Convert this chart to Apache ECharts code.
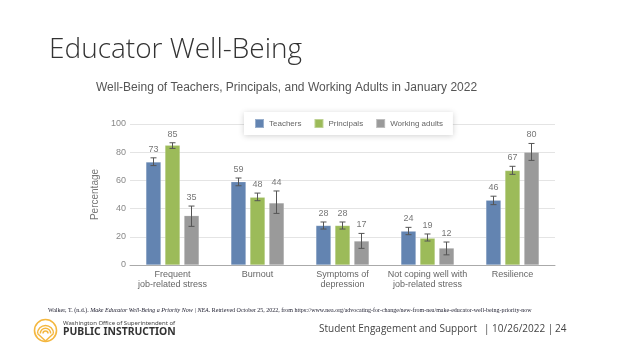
<!DOCTYPE html>
<html><head><meta charset="utf-8">
<script src="https://cdn.jsdelivr.net/npm/echarts@6/dist/echarts.min.js"></script>
<style>html,body{margin:0;padding:0;background:#fff}#c{width:624px;height:351px}</style>
</head><body><div id="c"></div>
<script>
const categories = ['Frequent\njob-related stress', 'Burnout', 'Symptoms of\ndepression', 'Not coping well with\njob-related stress', 'Resilience'];
const seriesNames = ['Teachers', 'Principals', 'Working adults'];
const teachers = [73, 59, 28, 24, 46];
const principals = [85, 48, 28, 19, 67];
const workingAdults = [35, 44, 17, 12, 80];
const teachersErr = [[70.5, 76], [56.2, 61.7], [25.5, 30.5], [21.5, 26.7], [42.8, 48.8]];
const principalsErr = [[82.7, 86.7], [45.6, 51], [25.5, 30.5], [17, 22], [64.3, 70]];
const workingErr = [[27.4, 41.8], [36.6, 52.5], [11.8, 22.4], [7.2, 16.3], [74.2, 86.2]];
const yTicks = [0, 20, 40, 60, 80, 100];

const colors = ['#6384B1', '#9CBB59', '#9A9A9A'];
const values = [teachers, principals, workingAdults];
const errs = [teachersErr, principalsErr, workingErr];
const chart = echarts.init(document.getElementById('c'));

const barSeries = seriesNames.map((n, i) => ({
  name: n, type: 'bar', data: values[i], barWidth: 15, barGap: '27%',
  itemStyle: { color: colors[i], borderColor: 'rgba(255,255,255,0.35)', borderWidth: 0.5 },
  z: 2
}));
const errSeries = seriesNames.map((n, i) => ({
  name: n, type: 'custom', z: 5,
  data: errs[i].map((e, k) => [k, e[0], e[1], values[i][k]]),
  encode: { x: 0, y: [1, 2] },
  renderItem: function (params, api) {
    const k = api.value(0);
    const lo = api.coord([k, api.value(1)]);
    const hi = api.coord([k, api.value(2)]);
    const offs = [-19, 0, 19];
    const x = lo[0] + offs[i];
    const cap = 3;
    const st = { stroke: '#555', lineWidth: 1 };
    return { type: 'group', children: [
      { type: 'line', shape: { x1: x, y1: lo[1], x2: x, y2: hi[1] }, style: st },
      { type: 'line', shape: { x1: x - cap, y1: lo[1], x2: x + cap, y2: lo[1] }, style: st },
      { type: 'line', shape: { x1: x - cap, y1: hi[1], x2: x + cap, y2: hi[1] }, style: st },
      { type: 'text', x: x, y: hi[1] - 4, style: { text: String(api.value(3)), textAlign: 'center', textVerticalAlign: 'bottom', fill: '#777', font: '9px "Liberation Sans", Arial, sans-serif' } }
    ]};
  }
}));

chart.setOption({
  animation: false,
  textStyle: { fontFamily: '"Liberation Sans", Arial, sans-serif' },
  grid: { left: 130, right: 69, top: 124, bottom: 86, containLabel: false },
  legend: {
    data: seriesNames.map(n => ({ name: n, icon: 'rect' })),
    top: 112, left: 244, itemWidth: 9, itemHeight: 9, itemGap: 12,
    textStyle: { fontSize: 8, color: '#666' },
    backgroundColor: '#fff', padding: [6, 10, 6, 10],
    shadowBlur: 6, shadowColor: 'rgba(0,0,0,0.18)', shadowOffsetY: 1
  },
  xAxis: {
    type: 'category', data: categories,
    axisLine: { lineStyle: { color: '#aaa' } }, axisTick: { show: false },
    axisLabel: { color: '#666', fontSize: 9, lineHeight: 10, margin: 5, interval: 0 }
  },
  yAxis: {
    type: 'value', min: 0, max: 100, interval: 20,
    name: 'Percentage', nameLocation: 'middle', nameGap: 17, nameRotate: 90,
    nameTextStyle: { color: '#777', fontSize: 10 },
    axisLine: { show: false }, axisTick: { show: false },
    axisLabel: { color: '#888', fontSize: 9, margin: 4, formatter: v => yTicks.includes(v) ? String(v) : '' },
    splitLine: { lineStyle: { color: '#e4e4e4' } }
  },
  series: barSeries.concat(errSeries),
  graphic: [
    { type: 'text', left: 49, top: 36, style: { text: 'Educator Well-Being', font: '300 28px "Open Sans", "Noto Sans", sans-serif', fill: '#333' } },
    { type: 'text', left: 96, top: 82, style: { text: 'Well-Being of Teachers, Principals, and Working Adults in January 2022', font: '12px "Liberation Sans", Arial, sans-serif', fill: '#555' } },
    { type: 'text', left: 48, top: 307, style: { rich: {
        n: { font: '6px "Liberation Serif", serif', fill: '#223' },
        i: { font: 'italic 6px "Liberation Serif", serif', fill: '#223' }
      }, text: '{n|Walker, T. (n.d.). }{i|Make Educator Well-Being a Priority Now | NEA.}{n| Retrieved October 25, 2022, from https://www.nea.org/advocating-for-change/new-from-nea/make-educator-well-being-priority-now}' } },
    { type: 'group', left: 32, top: 317, children: [
      { type: 'circle', shape: { cx: 12, cy: 12, r: 11 }, style: { fill: 'none', stroke: '#F4B73F', lineWidth: 1.6 } },
      { type: 'arc', shape: { cx: 12, cy: 15, r: 2.5, startAngle: Math.PI, endAngle: 2 * Math.PI }, style: { fill: 'none', stroke: '#F4B73F', lineWidth: 1.5 } },
      { type: 'arc', shape: { cx: 12, cy: 15, r: 5.2, startAngle: Math.PI, endAngle: 2 * Math.PI }, style: { fill: 'none', stroke: '#F4B73F', lineWidth: 1.5 } },
      { type: 'arc', shape: { cx: 12, cy: 15, r: 8, startAngle: Math.PI, endAngle: 2 * Math.PI }, style: { fill: 'none', stroke: '#F4B73F', lineWidth: 1.5 } },
      { type: 'line', shape: { x1: 4, y1: 15, x2: 12, y2: 22.5 }, style: { stroke: '#F4B73F', lineWidth: 1.5 } },
      { type: 'line', shape: { x1: 20, y1: 15, x2: 12, y2: 22.5 }, style: { stroke: '#F4B73F', lineWidth: 1.5 } }
    ] },
    { type: 'text', left: 63, top: 320, style: { text: 'Washington Office of Superintendent of', font: '6px "Noto Sans", sans-serif', fill: '#444' } },
    { type: 'text', left: 63, top: 327, style: { text: 'PUBLIC INSTRUCTION', font: 'bold 10.4px "Noto Sans", sans-serif', fill: '#333' } },
    { type: 'text', left: 319, top: 324, style: { text: 'Student Engagement and Support', font: '10px "Open Sans", "Noto Sans", sans-serif', fill: '#444' } },
    { type: 'text', left: 484, top: 324, style: { text: '| 10/26/2022 |', font: '10px "Open Sans", "Noto Sans", sans-serif', fill: '#444' } },
    { type: 'text', left: 555, top: 324, style: { text: '24', font: '10px "Open Sans", "Noto Sans", sans-serif', fill: '#444' } }
  ]
});
</script></body></html>
